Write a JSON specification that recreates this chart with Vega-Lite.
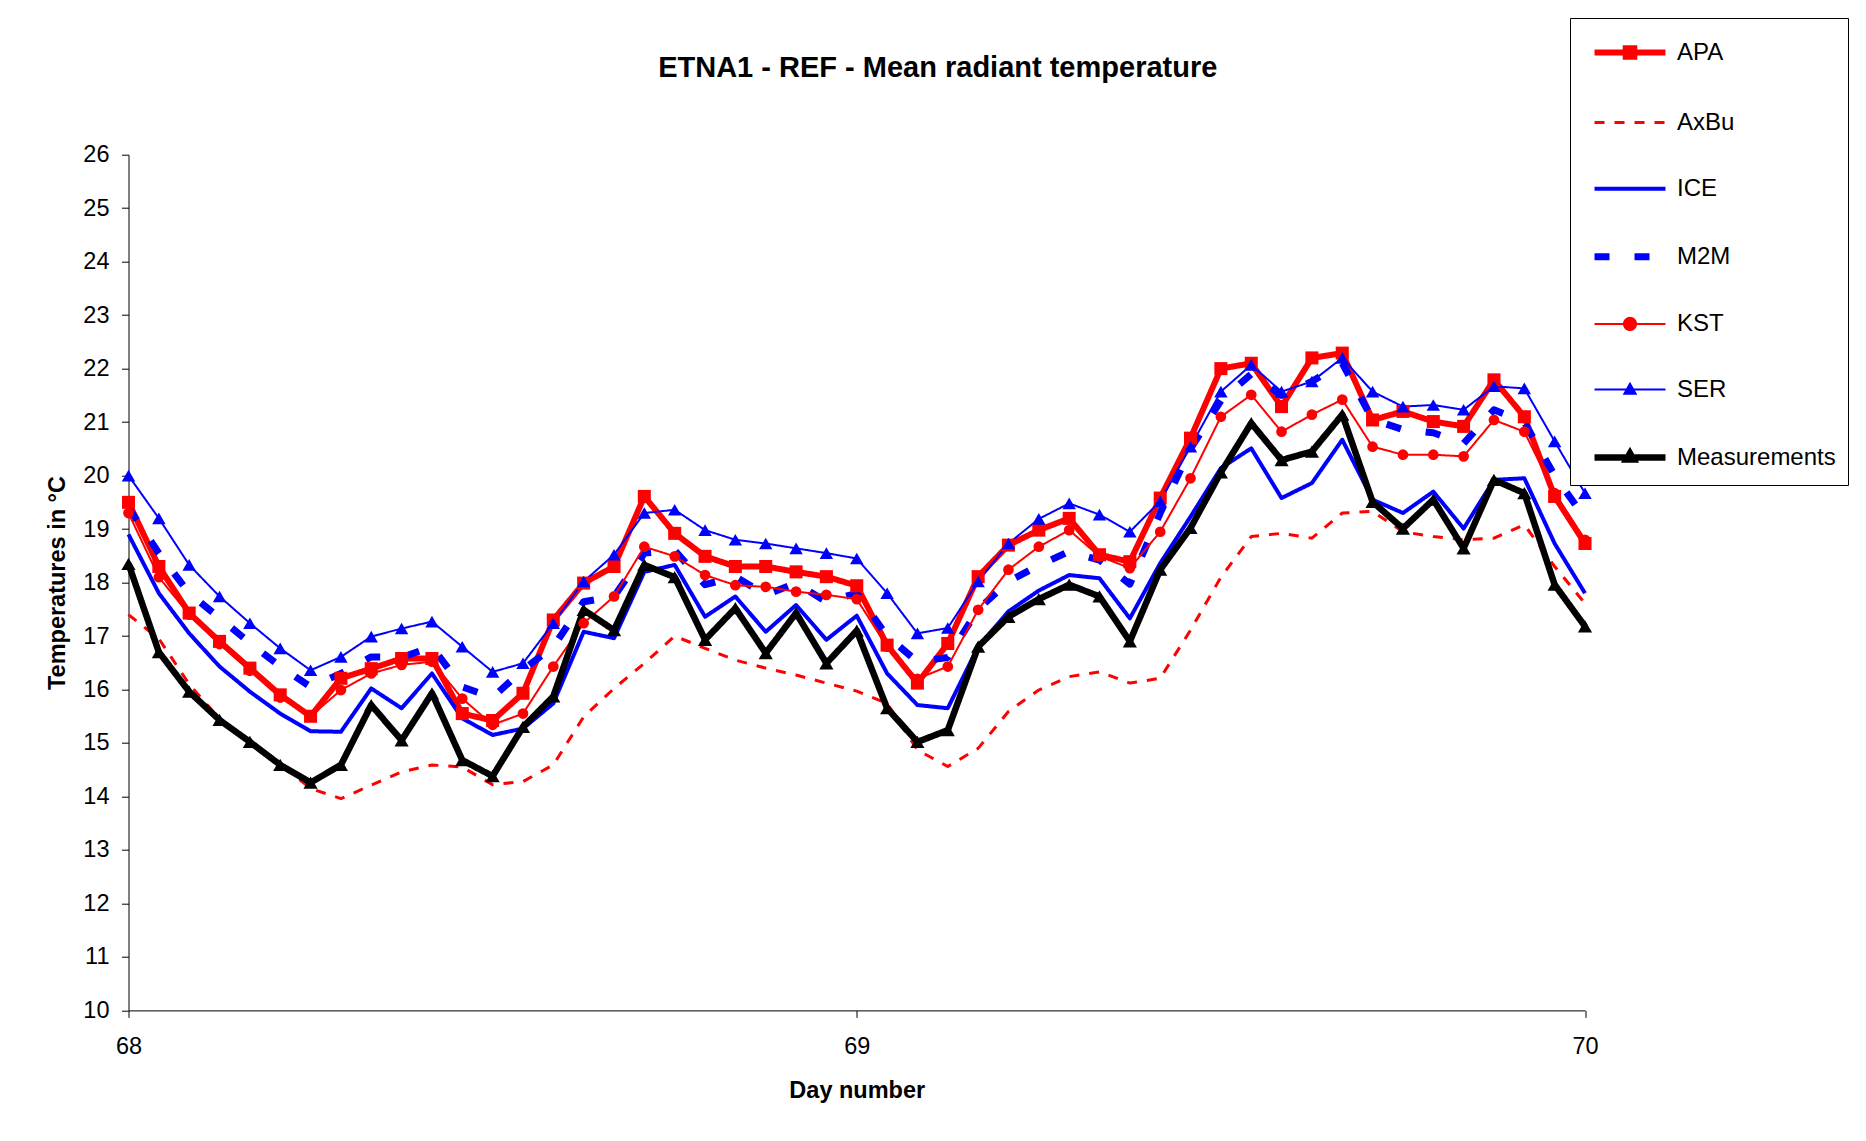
{
  "$schema": "https://vega.github.io/schema/vega-lite/v6.json",
  "autosize": "none",
  "padding": {"left": 128.5, "top": 154.7, "right": 281, "bottom": 130.6},
  "width": 1456.5,
  "height": 855.7,
  "background": "white",
  "title": {
    "text": "ETNA1 - REF - Mean radiant temperature",
    "font": "Liberation Sans",
    "fontSize": 29,
    "fontWeight": "bold",
    "color": "black",
    "anchor": "middle",
    "frame": "group",
    "dx": 81,
    "baseline": "middle",
    "offset": -79.6
  },
  "data": {
    "values": [
      {"d": 68, "APA": 19.5, "AxBu": 17.4, "ICE": 18.9, "M2M": 19.4, "KST": 19.3, "SER": 20.0, "Measurements": 18.35},
      {"d": 68.0417, "APA": 18.3, "AxBu": 16.95, "ICE": 17.8, "M2M": 18.55, "KST": 18.1, "SER": 19.2, "Measurements": 16.7},
      {"d": 68.0833, "APA": 17.43, "AxBu": 16.1, "ICE": 17.05, "M2M": 17.8, "KST": 17.4, "SER": 18.33, "Measurements": 15.96},
      {"d": 68.125, "APA": 16.9, "AxBu": 15.45, "ICE": 16.43, "M2M": 17.34, "KST": 16.85, "SER": 17.74, "Measurements": 15.43},
      {"d": 68.1667, "APA": 16.4, "AxBu": 15.0, "ICE": 15.96, "M2M": 16.87, "KST": 16.35, "SER": 17.24, "Measurements": 15.02},
      {"d": 68.2083, "APA": 15.9, "AxBu": 14.6, "ICE": 15.55, "M2M": 16.43, "KST": 15.85, "SER": 16.77, "Measurements": 14.59},
      {"d": 68.25, "APA": 15.5, "AxBu": 14.15, "ICE": 15.22, "M2M": 16.05, "KST": 15.5, "SER": 16.36, "Measurements": 14.26},
      {"d": 68.2917, "APA": 16.21, "AxBu": 13.96, "ICE": 15.21, "M2M": 16.3, "KST": 15.99, "SER": 16.61, "Measurements": 14.59},
      {"d": 68.3333, "APA": 16.39, "AxBu": 14.21, "ICE": 16.02, "M2M": 16.61, "KST": 16.3, "SER": 16.99, "Measurements": 15.71},
      {"d": 68.375, "APA": 16.58, "AxBu": 14.46, "ICE": 15.65, "M2M": 16.6, "KST": 16.46, "SER": 17.14, "Measurements": 15.05},
      {"d": 68.4167, "APA": 16.58, "AxBu": 14.59, "ICE": 16.3, "M2M": 16.8, "KST": 16.52, "SER": 17.27, "Measurements": 15.93},
      {"d": 68.4583, "APA": 15.55, "AxBu": 14.55, "ICE": 15.46, "M2M": 16.05, "KST": 15.83, "SER": 16.8, "Measurements": 14.68},
      {"d": 68.5, "APA": 15.42, "AxBu": 14.22, "ICE": 15.15, "M2M": 15.85, "KST": 15.34, "SER": 16.33, "Measurements": 14.38},
      {"d": 68.5417, "APA": 15.93, "AxBu": 14.28, "ICE": 15.27, "M2M": 16.37, "KST": 15.55, "SER": 16.49, "Measurements": 15.3},
      {"d": 68.5833, "APA": 17.3, "AxBu": 14.59, "ICE": 15.74, "M2M": 16.8, "KST": 16.43, "SER": 17.24, "Measurements": 15.87},
      {"d": 68.625, "APA": 17.99, "AxBu": 15.49, "ICE": 17.08, "M2M": 17.64, "KST": 17.24, "SER": 18.02, "Measurements": 17.49},
      {"d": 68.6667, "APA": 18.3, "AxBu": 16.02, "ICE": 16.96, "M2M": 17.74, "KST": 17.74, "SER": 18.52, "Measurements": 17.11},
      {"d": 68.7083, "APA": 19.61, "AxBu": 16.49, "ICE": 18.2, "M2M": 18.55, "KST": 18.67, "SER": 19.3, "Measurements": 18.33},
      {"d": 68.75, "APA": 18.92, "AxBu": 17.0, "ICE": 18.33, "M2M": 18.6, "KST": 18.49, "SER": 19.36, "Measurements": 18.1},
      {"d": 68.7917, "APA": 18.49, "AxBu": 16.77, "ICE": 17.36, "M2M": 17.96, "KST": 18.14, "SER": 18.98, "Measurements": 16.93},
      {"d": 68.8333, "APA": 18.3, "AxBu": 16.55, "ICE": 17.74, "M2M": 18.11, "KST": 17.95, "SER": 18.8, "Measurements": 17.52},
      {"d": 68.875, "APA": 18.3, "AxBu": 16.4, "ICE": 17.08, "M2M": 17.77, "KST": 17.92, "SER": 18.73, "Measurements": 16.68},
      {"d": 68.9167, "APA": 18.2, "AxBu": 16.27, "ICE": 17.58, "M2M": 17.99, "KST": 17.83, "SER": 18.64, "Measurements": 17.43},
      {"d": 68.9583, "APA": 18.11, "AxBu": 16.12, "ICE": 16.93, "M2M": 17.64, "KST": 17.77, "SER": 18.55, "Measurements": 16.49},
      {"d": 69, "APA": 17.94, "AxBu": 15.97, "ICE": 17.38, "M2M": 17.8, "KST": 17.69, "SER": 18.45, "Measurements": 17.1},
      {"d": 69.0417, "APA": 16.83, "AxBu": 15.74, "ICE": 16.3, "M2M": 17.0, "KST": 16.8, "SER": 17.8, "Measurements": 15.65},
      {"d": 69.0833, "APA": 16.12, "AxBu": 14.87, "ICE": 15.71, "M2M": 16.52, "KST": 16.2, "SER": 17.05, "Measurements": 15.02},
      {"d": 69.125, "APA": 16.86, "AxBu": 14.56, "ICE": 15.65, "M2M": 16.6, "KST": 16.43, "SER": 17.15, "Measurements": 15.24},
      {"d": 69.1667, "APA": 18.11, "AxBu": 14.9, "ICE": 16.8, "M2M": 17.5, "KST": 17.49, "SER": 18.02, "Measurements": 16.8},
      {"d": 69.2083, "APA": 18.7, "AxBu": 15.59, "ICE": 17.46, "M2M": 18.02, "KST": 18.24, "SER": 18.73, "Measurements": 17.36},
      {"d": 69.25, "APA": 18.98, "AxBu": 15.99, "ICE": 17.85, "M2M": 18.32, "KST": 18.67, "SER": 19.19, "Measurements": 17.69},
      {"d": 69.2917, "APA": 19.2, "AxBu": 16.24, "ICE": 18.14, "M2M": 18.58, "KST": 18.98, "SER": 19.48, "Measurements": 17.96},
      {"d": 69.3333, "APA": 18.52, "AxBu": 16.33, "ICE": 18.08, "M2M": 18.42, "KST": 18.49, "SER": 19.27, "Measurements": 17.74},
      {"d": 69.375, "APA": 18.39, "AxBu": 16.12, "ICE": 17.33, "M2M": 17.97, "KST": 18.27, "SER": 18.95, "Measurements": 16.9},
      {"d": 69.4167, "APA": 19.58, "AxBu": 16.21, "ICE": 18.36, "M2M": 19.3, "KST": 18.95, "SER": 19.52, "Measurements": 18.24},
      {"d": 69.4583, "APA": 20.7, "AxBu": 17.11, "ICE": 19.23, "M2M": 20.5, "KST": 19.95, "SER": 20.54, "Measurements": 19.02},
      {"d": 69.5, "APA": 22.0, "AxBu": 18.1, "ICE": 20.14, "M2M": 21.4, "KST": 21.1, "SER": 21.57, "Measurements": 20.06},
      {"d": 69.5417, "APA": 22.1, "AxBu": 18.86, "ICE": 20.51, "M2M": 21.9, "KST": 21.51, "SER": 22.07, "Measurements": 20.98},
      {"d": 69.5833, "APA": 21.29, "AxBu": 18.92, "ICE": 19.58, "M2M": 21.5, "KST": 20.82, "SER": 21.57, "Measurements": 20.29},
      {"d": 69.625, "APA": 22.2, "AxBu": 18.83, "ICE": 19.86, "M2M": 21.76, "KST": 21.14, "SER": 21.76, "Measurements": 20.45},
      {"d": 69.6667, "APA": 22.29, "AxBu": 19.3, "ICE": 20.67, "M2M": 22.1, "KST": 21.42, "SER": 22.2, "Measurements": 21.14},
      {"d": 69.7083, "APA": 21.04, "AxBu": 19.33, "ICE": 19.55, "M2M": 21.05, "KST": 20.54, "SER": 21.57, "Measurements": 19.51},
      {"d": 69.75, "APA": 21.2, "AxBu": 18.95, "ICE": 19.3, "M2M": 20.86, "KST": 20.39, "SER": 21.29, "Measurements": 19.01},
      {"d": 69.7917, "APA": 21.01, "AxBu": 18.86, "ICE": 19.7, "M2M": 20.8, "KST": 20.39, "SER": 21.32, "Measurements": 19.55},
      {"d": 69.8333, "APA": 20.92, "AxBu": 18.8, "ICE": 19.01, "M2M": 20.6, "KST": 20.36, "SER": 21.23, "Measurements": 18.64},
      {"d": 69.875, "APA": 21.79, "AxBu": 18.83, "ICE": 19.92, "M2M": 21.23, "KST": 21.04, "SER": 21.67, "Measurements": 19.92},
      {"d": 69.9167, "APA": 21.1, "AxBu": 19.08, "ICE": 19.95, "M2M": 21.0, "KST": 20.82, "SER": 21.63, "Measurements": 19.67},
      {"d": 69.9583, "APA": 19.61, "AxBu": 18.3, "ICE": 18.73, "M2M": 20.0, "KST": 19.67, "SER": 20.64, "Measurements": 17.96},
      {"d": 70, "APA": 18.73, "AxBu": 17.61, "ICE": 17.8, "M2M": 19.2, "KST": 18.8, "SER": 19.67, "Measurements": 17.18}
    ]
  },
  "transform": [
    {"fold": ["APA", "AxBu", "ICE", "M2M", "KST", "SER", "Measurements"], "as": ["series", "t"]}
  ],
  "encoding": {
    "x": {
      "field": "d",
      "type": "quantitative",
      "title": "Day number",
      "scale": {"domain": [68, 70], "nice": false, "zero": false},
      "axis": {"values": [68, 69, 70], "tickCount": 3, "labelExpr": "round(datum.value)", "labelFlush": false, "labelOverlap": false, "titleY": 79.6, "titleBaseline": "middle", "labelPadding": 17}
    },
    "y": {
      "field": "t",
      "type": "quantitative",
      "title": "Temperatures in °C",
      "scale": {"domain": [10, 26], "nice": false, "zero": false},
      "axis": {"values": [10, 11, 12, 13, 14, 15, 16, 17, 18, 19, 20, 21, 22, 23, 24, 25, 26], "labelFlush": false, "labelOverlap": false, "titleX": -71.5, "titleY": 427.85, "titleBaseline": "middle", "titleAlign": "center", "titleAngle": -90, "labelPadding": 12.5}
    },
    "color": {
      "field": "series",
      "type": "nominal",
      "scale": {
        "domain": ["APA", "AxBu", "ICE", "M2M", "KST", "SER", "Measurements"],
        "range": ["#ff0000", "#ff0000", "#0000ff", "#0000ff", "#ff0000", "#0000ff", "#000000"]
      }
    }
  },
  "layer": [
    {
      "mark": {"type": "line", "strokeJoin": "round", "clip": false},
      "encoding": {
        "color": {
          "field": "series",
          "type": "nominal",
          "legend": {
            "title": null,
            "orient": "none",
            "legendX": 1441.5,
            "legendY": -136.7,
            "direction": "vertical",
            "strokeColor": "black",
            "fillColor": "white",
            "padding": 12,
            "symbolSize": 1521,
            "symbolOffset": 25,
            "labelOffset": 24,
            "labelFont": "Liberation Sans",
            "labelFontSize": 24,
            "labelColor": "black",
            "rowPadding": 32.6,
            "encode": {
              "symbols": {
                "update": {
                  "shape": {"signal": "{'APA':'M-1.82,0L1.82,0M-0.22,-0.22L0.22,-0.22L0.22,0.22L-0.22,0.22Z','AxBu':'M-1.82,0L1.82,0','ICE':'M-1.82,0L1.82,0','M2M':'M-1.82,0L1.82,0','KST':'M-1.82,0L1.82,0M-0.31,0A0.31,0.31 0 1 1 0.31,0A0.31,0.31 0 1 1 -0.31,0Z','SER':'M-1.82,0L1.82,0M-0.29,0.22L0,-0.29L0.29,0.22Z','Measurements':'M-1.82,0L1.82,0M-0.18,0.1L0,-0.22L0.18,0.1Z'}[datum.value]"},
                  "fill": {"signal": "{'APA':'#ff0000','AxBu':'#ff0000','ICE':'#0000ff','M2M':'#0000ff','KST':'#ff0000','SER':'#0000ff','Measurements':'#000000'}[datum.value]"},
                  "stroke": {"signal": "{'APA':'#ff0000','AxBu':'#ff0000','ICE':'#0000ff','M2M':'#0000ff','KST':'#ff0000','SER':'#0000ff','Measurements':'#000000'}[datum.value]"},
                  "strokeWidth": {"signal": "{'APA':6,'AxBu':3,'ICE':4,'M2M':7,'KST':2,'SER':2,'Measurements':6}[datum.value]"},
                  "strokeDash": {"signal": "datum.value == 'AxBu' ? [10,10] : datum.value == 'M2M' ? [15,27] : [1,0]"},
                  "opacity": {"value": 1}
                }
              }
            }
          }
        },
        "strokeDash": {
          "field": "series",
          "type": "nominal",
          "legend": null,
          "scale": {
            "domain": ["APA", "AxBu", "ICE", "M2M", "KST", "SER", "Measurements"],
            "range": [[1, 0], [10, 10], [1, 0], [15, 25], [1, 0], [1, 0], [1, 0]]
          }
        },
        "strokeWidth": {
          "field": "series",
          "type": "nominal",
          "legend": null,
          "scale": {
            "type": "ordinal",
            "domain": ["APA", "AxBu", "ICE", "M2M", "KST", "SER", "Measurements"],
            "range": [6, 3, 4, 7, 2, 2, 6.5]
          }
        }
      }
    },
    {
      "transform": [{"filter": {"field": "series", "oneOf": ["APA", "KST", "SER", "Measurements"]}}],
      "mark": {"type": "point", "filled": true, "opacity": 1, "clip": false},
      "encoding": {
        "shape": {
          "field": "series",
          "type": "nominal",
          "legend": null,
          "scale": {"domain": ["APA", "KST", "SER", "Measurements"], "range": ["square", "circle", "triangle-up", "triangle-up"]}
        },
        "size": {
          "field": "series",
          "type": "nominal",
          "legend": null,
          "scale": {"type": "ordinal", "domain": ["APA", "KST", "SER", "Measurements"], "range": [170, 115, 180, 200]}
        }
      }
    }
  ],
  "config": {
    "font": "Liberation Sans",
    "view": {"stroke": null},
    "axis": {
      "grid": false,
      "domainColor": "black",
      "domainWidth": 1,
      "tickColor": "black",
      "tickWidth": 1,
      "tickSize": 7,
      "labelColor": "black",
      "labelFont": "Liberation Sans",
      "labelFontSize": 23.5,
      "titleColor": "black",
      "titleFont": "Liberation Sans",
      "titleFontSize": 23.5,
      "titleFontWeight": "bold"
    }
  }
}
